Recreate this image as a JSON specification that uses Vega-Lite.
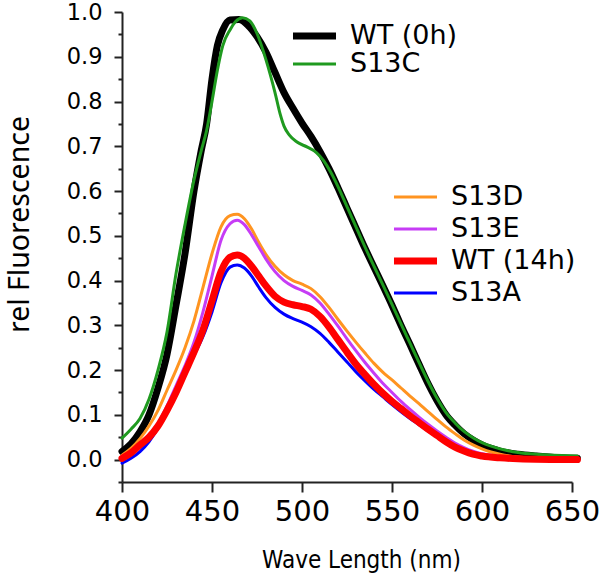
{
  "$schema": "https://vega.github.io/schema/vega-lite/v6.json",
  "width": 450,
  "height": 470,
  "autosize": "none",
  "padding": {"left": 122, "top": 12, "right": 28, "bottom": 100},
  "config": {
    "view": {"stroke": null},
    "legend": {
      "labelFont": "DejaVu Sans",
      "labelFontSize": 27,
      "labelColor": "#000",
      "symbolType": "stroke",
      "symbolSize": 1850,
      "labelOffset": 10,
      "padding": 0,
      "rowPadding": 0,
      "title": null
    }
  },
  "data": {"values": [
    {"s":"WT (0h)","x":400,"y":0.018},{"s":"WT (0h)","x":405,"y":0.035},{"s":"WT (0h)","x":410,"y":0.062},{"s":"WT (0h)","x":415,"y":0.10},{"s":"WT (0h)","x":420,"y":0.16},{"s":"WT (0h)","x":425,"y":0.235},{"s":"WT (0h)","x":430,"y":0.345},{"s":"WT (0h)","x":435,"y":0.46},{"s":"WT (0h)","x":440,"y":0.60},{"s":"WT (0h)","x":444,"y":0.69},{"s":"WT (0h)","x":447,"y":0.75},{"s":"WT (0h)","x":450,"y":0.85},{"s":"WT (0h)","x":453,"y":0.925},{"s":"WT (0h)","x":456,"y":0.96},{"s":"WT (0h)","x":460,"y":0.982},{"s":"WT (0h)","x":465,"y":0.983},{"s":"WT (0h)","x":470,"y":0.97},{"s":"WT (0h)","x":475,"y":0.945},{"s":"WT (0h)","x":480,"y":0.91},{"s":"WT (0h)","x":485,"y":0.865},{"s":"WT (0h)","x":490,"y":0.82},{"s":"WT (0h)","x":495,"y":0.785},{"s":"WT (0h)","x":500,"y":0.752},{"s":"WT (0h)","x":505,"y":0.722},{"s":"WT (0h)","x":510,"y":0.688},{"s":"WT (0h)","x":515,"y":0.65},{"s":"WT (0h)","x":520,"y":0.607},{"s":"WT (0h)","x":525,"y":0.562},{"s":"WT (0h)","x":530,"y":0.517},{"s":"WT (0h)","x":535,"y":0.472},{"s":"WT (0h)","x":540,"y":0.43},{"s":"WT (0h)","x":545,"y":0.388},{"s":"WT (0h)","x":550,"y":0.345},{"s":"WT (0h)","x":555,"y":0.30},{"s":"WT (0h)","x":560,"y":0.257},{"s":"WT (0h)","x":565,"y":0.213},{"s":"WT (0h)","x":570,"y":0.17},{"s":"WT (0h)","x":575,"y":0.132},{"s":"WT (0h)","x":580,"y":0.10},{"s":"WT (0h)","x":585,"y":0.077},{"s":"WT (0h)","x":590,"y":0.058},{"s":"WT (0h)","x":595,"y":0.044},{"s":"WT (0h)","x":600,"y":0.033},{"s":"WT (0h)","x":605,"y":0.025},{"s":"WT (0h)","x":610,"y":0.019},{"s":"WT (0h)","x":620,"y":0.012},{"s":"WT (0h)","x":630,"y":0.008},{"s":"WT (0h)","x":640,"y":0.005},{"s":"WT (0h)","x":653,"y":0.003},
    {"s":"S13C","x":400,"y":0.048},{"s":"S13C","x":405,"y":0.068},{"s":"S13C","x":410,"y":0.092},{"s":"S13C","x":415,"y":0.135},{"s":"S13C","x":420,"y":0.20},{"s":"S13C","x":425,"y":0.285},{"s":"S13C","x":430,"y":0.415},{"s":"S13C","x":435,"y":0.525},{"s":"S13C","x":440,"y":0.625},{"s":"S13C","x":444,"y":0.69},{"s":"S13C","x":447,"y":0.735},{"s":"S13C","x":450,"y":0.80},{"s":"S13C","x":453,"y":0.87},{"s":"S13C","x":456,"y":0.925},{"s":"S13C","x":460,"y":0.96},{"s":"S13C","x":463,"y":0.978},{"s":"S13C","x":467,"y":0.987},{"s":"S13C","x":471,"y":0.98},{"s":"S13C","x":475,"y":0.952},{"s":"S13C","x":480,"y":0.893},{"s":"S13C","x":485,"y":0.82},{"s":"S13C","x":488,"y":0.77},{"s":"S13C","x":490,"y":0.745},{"s":"S13C","x":493,"y":0.725},{"s":"S13C","x":497,"y":0.71},{"s":"S13C","x":503,"y":0.698},{"s":"S13C","x":508,"y":0.686},{"s":"S13C","x":512,"y":0.668},{"s":"S13C","x":516,"y":0.642},{"s":"S13C","x":520,"y":0.61},{"s":"S13C","x":525,"y":0.565},{"s":"S13C","x":530,"y":0.52},{"s":"S13C","x":535,"y":0.475},{"s":"S13C","x":540,"y":0.432},{"s":"S13C","x":545,"y":0.39},{"s":"S13C","x":550,"y":0.347},{"s":"S13C","x":555,"y":0.303},{"s":"S13C","x":560,"y":0.26},{"s":"S13C","x":565,"y":0.217},{"s":"S13C","x":570,"y":0.175},{"s":"S13C","x":575,"y":0.137},{"s":"S13C","x":580,"y":0.105},{"s":"S13C","x":585,"y":0.082},{"s":"S13C","x":590,"y":0.063},{"s":"S13C","x":595,"y":0.049},{"s":"S13C","x":600,"y":0.038},{"s":"S13C","x":605,"y":0.03},{"s":"S13C","x":610,"y":0.024},{"s":"S13C","x":620,"y":0.016},{"s":"S13C","x":630,"y":0.012},{"s":"S13C","x":640,"y":0.01},{"s":"S13C","x":653,"y":0.008},
    {"s":"S13D","x":400,"y":0.01},{"s":"S13D","x":405,"y":0.025},{"s":"S13D","x":410,"y":0.047},{"s":"S13D","x":415,"y":0.075},{"s":"S13D","x":420,"y":0.11},{"s":"S13D","x":425,"y":0.155},{"s":"S13D","x":430,"y":0.20},{"s":"S13D","x":435,"y":0.25},{"s":"S13D","x":440,"y":0.31},{"s":"S13D","x":445,"y":0.385},{"s":"S13D","x":450,"y":0.46},{"s":"S13D","x":455,"y":0.52},{"s":"S13D","x":460,"y":0.545},{"s":"S13D","x":464,"y":0.548},{"s":"S13D","x":468,"y":0.538},{"s":"S13D","x":472,"y":0.515},{"s":"S13D","x":476,"y":0.485},{"s":"S13D","x":480,"y":0.458},{"s":"S13D","x":485,"y":0.432},{"s":"S13D","x":490,"y":0.413},{"s":"S13D","x":495,"y":0.40},{"s":"S13D","x":500,"y":0.392},{"s":"S13D","x":505,"y":0.382},{"s":"S13D","x":510,"y":0.364},{"s":"S13D","x":515,"y":0.34},{"s":"S13D","x":520,"y":0.313},{"s":"S13D","x":525,"y":0.287},{"s":"S13D","x":530,"y":0.262},{"s":"S13D","x":535,"y":0.238},{"s":"S13D","x":540,"y":0.215},{"s":"S13D","x":545,"y":0.195},{"s":"S13D","x":550,"y":0.178},{"s":"S13D","x":555,"y":0.16},{"s":"S13D","x":560,"y":0.142},{"s":"S13D","x":565,"y":0.125},{"s":"S13D","x":570,"y":0.107},{"s":"S13D","x":575,"y":0.09},{"s":"S13D","x":580,"y":0.073},{"s":"S13D","x":585,"y":0.058},{"s":"S13D","x":590,"y":0.044},{"s":"S13D","x":595,"y":0.033},{"s":"S13D","x":600,"y":0.024},{"s":"S13D","x":605,"y":0.017},{"s":"S13D","x":610,"y":0.012},{"s":"S13D","x":620,"y":0.006},{"s":"S13D","x":630,"y":0.004},{"s":"S13D","x":640,"y":0.003},{"s":"S13D","x":653,"y":0.002},
    {"s":"S13E","x":400,"y":0.0},{"s":"S13E","x":405,"y":0.012},{"s":"S13E","x":410,"y":0.03},{"s":"S13E","x":415,"y":0.05},{"s":"S13E","x":420,"y":0.08},{"s":"S13E","x":425,"y":0.12},{"s":"S13E","x":430,"y":0.165},{"s":"S13E","x":435,"y":0.21},{"s":"S13E","x":440,"y":0.262},{"s":"S13E","x":445,"y":0.33},{"s":"S13E","x":450,"y":0.41},{"s":"S13E","x":455,"y":0.49},{"s":"S13E","x":460,"y":0.527},{"s":"S13E","x":464,"y":0.535},{"s":"S13E","x":468,"y":0.525},{"s":"S13E","x":472,"y":0.502},{"s":"S13E","x":476,"y":0.475},{"s":"S13E","x":480,"y":0.448},{"s":"S13E","x":485,"y":0.42},{"s":"S13E","x":490,"y":0.40},{"s":"S13E","x":495,"y":0.387},{"s":"S13E","x":500,"y":0.378},{"s":"S13E","x":505,"y":0.368},{"s":"S13E","x":510,"y":0.35},{"s":"S13E","x":515,"y":0.325},{"s":"S13E","x":520,"y":0.298},{"s":"S13E","x":525,"y":0.27},{"s":"S13E","x":530,"y":0.243},{"s":"S13E","x":535,"y":0.217},{"s":"S13E","x":540,"y":0.193},{"s":"S13E","x":545,"y":0.17},{"s":"S13E","x":550,"y":0.15},{"s":"S13E","x":555,"y":0.13},{"s":"S13E","x":560,"y":0.112},{"s":"S13E","x":565,"y":0.095},{"s":"S13E","x":570,"y":0.079},{"s":"S13E","x":575,"y":0.064},{"s":"S13E","x":580,"y":0.05},{"s":"S13E","x":585,"y":0.037},{"s":"S13E","x":590,"y":0.027},{"s":"S13E","x":595,"y":0.019},{"s":"S13E","x":600,"y":0.013},{"s":"S13E","x":610,"y":0.007},{"s":"S13E","x":620,"y":0.004},{"s":"S13E","x":630,"y":0.002},{"s":"S13E","x":653,"y":0.0},
    {"s":"S13A","x":400,"y":-0.008},{"s":"S13A","x":405,"y":0.003},{"s":"S13A","x":410,"y":0.018},{"s":"S13A","x":415,"y":0.04},{"s":"S13A","x":420,"y":0.07},{"s":"S13A","x":425,"y":0.105},{"s":"S13A","x":430,"y":0.145},{"s":"S13A","x":435,"y":0.19},{"s":"S13A","x":440,"y":0.233},{"s":"S13A","x":445,"y":0.275},{"s":"S13A","x":450,"y":0.33},{"s":"S13A","x":455,"y":0.395},{"s":"S13A","x":460,"y":0.43},{"s":"S13A","x":464,"y":0.435},{"s":"S13A","x":468,"y":0.428},{"s":"S13A","x":472,"y":0.41},{"s":"S13A","x":476,"y":0.385},{"s":"S13A","x":480,"y":0.362},{"s":"S13A","x":485,"y":0.34},{"s":"S13A","x":490,"y":0.325},{"s":"S13A","x":495,"y":0.315},{"s":"S13A","x":500,"y":0.307},{"s":"S13A","x":505,"y":0.297},{"s":"S13A","x":510,"y":0.282},{"s":"S13A","x":515,"y":0.262},{"s":"S13A","x":520,"y":0.24},{"s":"S13A","x":525,"y":0.218},{"s":"S13A","x":530,"y":0.196},{"s":"S13A","x":535,"y":0.176},{"s":"S13A","x":540,"y":0.157},{"s":"S13A","x":545,"y":0.14},{"s":"S13A","x":550,"y":0.123},{"s":"S13A","x":555,"y":0.107},{"s":"S13A","x":560,"y":0.092},{"s":"S13A","x":565,"y":0.078},{"s":"S13A","x":570,"y":0.064},{"s":"S13A","x":575,"y":0.051},{"s":"S13A","x":580,"y":0.038},{"s":"S13A","x":585,"y":0.027},{"s":"S13A","x":590,"y":0.018},{"s":"S13A","x":595,"y":0.012},{"s":"S13A","x":600,"y":0.008},{"s":"S13A","x":610,"y":0.004},{"s":"S13A","x":620,"y":0.002},{"s":"S13A","x":653,"y":-0.002},
    {"s":"WT (14h)","x":400,"y":0.003},{"s":"WT (14h)","x":405,"y":0.015},{"s":"WT (14h)","x":410,"y":0.033},{"s":"WT (14h)","x":415,"y":0.05},{"s":"WT (14h)","x":420,"y":0.075},{"s":"WT (14h)","x":425,"y":0.11},{"s":"WT (14h)","x":430,"y":0.15},{"s":"WT (14h)","x":435,"y":0.195},{"s":"WT (14h)","x":440,"y":0.24},{"s":"WT (14h)","x":445,"y":0.29},{"s":"WT (14h)","x":450,"y":0.355},{"s":"WT (14h)","x":455,"y":0.42},{"s":"WT (14h)","x":460,"y":0.452},{"s":"WT (14h)","x":464,"y":0.457},{"s":"WT (14h)","x":468,"y":0.45},{"s":"WT (14h)","x":472,"y":0.432},{"s":"WT (14h)","x":476,"y":0.41},{"s":"WT (14h)","x":480,"y":0.388},{"s":"WT (14h)","x":485,"y":0.365},{"s":"WT (14h)","x":490,"y":0.352},{"s":"WT (14h)","x":495,"y":0.346},{"s":"WT (14h)","x":500,"y":0.342},{"s":"WT (14h)","x":505,"y":0.336},{"s":"WT (14h)","x":510,"y":0.32},{"s":"WT (14h)","x":515,"y":0.296},{"s":"WT (14h)","x":520,"y":0.268},{"s":"WT (14h)","x":525,"y":0.24},{"s":"WT (14h)","x":530,"y":0.213},{"s":"WT (14h)","x":535,"y":0.19},{"s":"WT (14h)","x":540,"y":0.168},{"s":"WT (14h)","x":545,"y":0.148},{"s":"WT (14h)","x":550,"y":0.13},{"s":"WT (14h)","x":555,"y":0.114},{"s":"WT (14h)","x":560,"y":0.098},{"s":"WT (14h)","x":565,"y":0.083},{"s":"WT (14h)","x":570,"y":0.068},{"s":"WT (14h)","x":575,"y":0.054},{"s":"WT (14h)","x":580,"y":0.04},{"s":"WT (14h)","x":585,"y":0.028},{"s":"WT (14h)","x":590,"y":0.019},{"s":"WT (14h)","x":595,"y":0.012},{"s":"WT (14h)","x":600,"y":0.008},{"s":"WT (14h)","x":610,"y":0.004},{"s":"WT (14h)","x":620,"y":0.002},{"s":"WT (14h)","x":653,"y":0.0}
  ]},
  "encoding": {
    "x": {
      "field": "x", "type": "quantitative",
      "scale": {"domain": [400, 650], "nice": false, "zero": false},
      "axis": {
        "values": [400, 450, 500, 550, 600, 650],
        "title": "Wave Length (nm)",
        "titleFont": "DejaVu Sans Condensed, DejaVu Sans",
        "titleFontSize": 24,
        "titleFontWeight": "normal",
        "titleColor": "#000",
        "titleX": 239,
        "titleY": 85,
        "titleBaseline": "alphabetic",
        "labelFont": "DejaVu Sans",
        "labelFontSize": 29,
        "labelColor": "#000",
        "labelPadding": 5,
        "labelFlush": false,
        "labelOverlap": false,
        "tickSize": 10,
        "tickWidth": 2,
        "tickColor": "#222",
        "domainColor": "#222",
        "domainWidth": 2,
        "grid": false
      }
    },
    "y": {
      "field": "y", "type": "quantitative",
      "scale": {"domain": [-0.05, 1.0], "nice": false, "zero": false},
      "axis": {
        "values": [-0.05, 0, 0.05, 0.1, 0.15, 0.2, 0.25, 0.3, 0.35, 0.4, 0.45, 0.5, 0.55, 0.6, 0.65, 0.7, 0.75, 0.8, 0.85, 0.9, 0.95, 1.0],
        "labelExpr": "abs(round(datum.value*20)) % 2 == 1 ? '' : format(datum.value, '.1f')",
        "tickSize": {"condition": {"test": "abs(round(datum.value*20)) % 2 == 1", "value": 4}, "value": 8},
        "title": "rel Fluorescence",
        "titleFont": "Noto Sans",
        "titleFontSize": 28.5,
        "titleFontWeight": "normal",
        "titleColor": "#000",
        "titlePadding": 32,
        "titleY": 212,
        "labelFont": "DejaVu Sans",
        "labelFontSize": 22.5,
        "labelColor": "#000",
        "labelPadding": 12,
        "labelFlush": false,
        "labelOverlap": false,
        "tickWidth": 2,
        "tickColor": "#222",
        "domainColor": "#222",
        "domainWidth": 2,
        "grid": false
      }
    }
  },
  "layer": [
    {
      "encoding": {
        "color": {"field": "s", "type": "nominal",
          "scale": {"domain": ["WT (0h)", "S13C"], "range": ["#000000", "#1f9a1f"]},
          "legend": {"orient": "none", "legendX": 167, "legendY": 10, "clipHeight": 28}},
        "strokeWidth": {"field": "s", "type": "nominal",
          "scale": {"type": "ordinal", "domain": ["WT (0h)", "S13C"], "range": [7, 3]},
          "legend": {"orient": "none", "legendX": 167, "legendY": 10, "clipHeight": 28}}
      },
      "layer": [
        {"transform": [{"filter": "datum.s == 'WT (0h)'"}], "mark": {"type": "line", "interpolate": "monotone", "strokeCap": "round", "strokeJoin": "round"}},
        {"transform": [{"filter": "datum.s == 'S13C'"}], "mark": {"type": "line", "interpolate": "monotone", "strokeCap": "round", "strokeJoin": "round"}}
      ]
    },
    {
      "encoding": {
        "color": {"field": "s", "type": "nominal",
          "scale": {"domain": ["S13D", "S13E", "WT (14h)", "S13A"], "range": ["#ff9420", "#c63cf5", "#ff0000", "#0000ff"]},
          "legend": {"orient": "none", "legendX": 268, "legendY": 169, "clipHeight": 32}},
        "strokeWidth": {"field": "s", "type": "nominal",
          "scale": {"type": "ordinal", "domain": ["S13D", "S13E", "WT (14h)", "S13A"], "range": [3, 3, 7, 3]},
          "legend": {"orient": "none", "legendX": 268, "legendY": 169, "clipHeight": 32}}
      },
      "layer": [
        {"transform": [{"filter": "datum.s == 'S13D'"}], "mark": {"type": "line", "interpolate": "monotone", "strokeCap": "round", "strokeJoin": "round"}},
        {"transform": [{"filter": "datum.s == 'S13E'"}], "mark": {"type": "line", "interpolate": "monotone", "strokeCap": "round", "strokeJoin": "round"}},
        {"transform": [{"filter": "datum.s == 'S13A'"}], "mark": {"type": "line", "interpolate": "monotone", "strokeCap": "round", "strokeJoin": "round"}},
        {"transform": [{"filter": "datum.s == 'WT (14h)'"}], "mark": {"type": "line", "interpolate": "monotone", "strokeCap": "round", "strokeJoin": "round"}}
      ]
    }
  ],
  "resolve": {"scale": {"color": "independent", "strokeWidth": "independent"}}
}
